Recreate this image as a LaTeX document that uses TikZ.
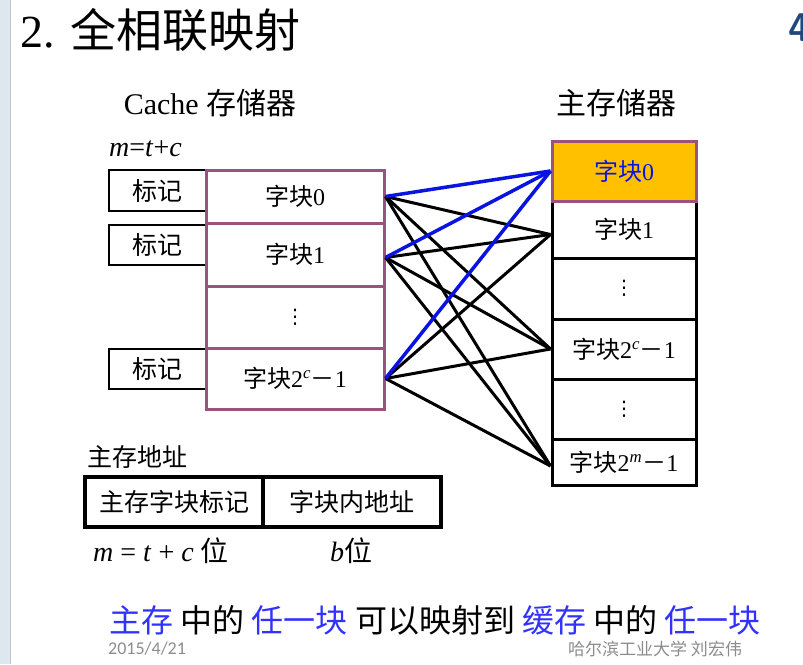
\documentclass[tikz,border=0pt]{standalone}
\usepackage{fontspec}
\setmainfont{Liberation Serif}
\newfontfamily\cjk{Noto Sans CJK SC}
\newfontfamily\slidefoot{Carlito}
\newfontfamily\symfont{DejaVu Sans}
\usetikzlibrary{calc}
\definecolor{cachepurple}{RGB}{152, 84, 124}
\definecolor{hitorange}{RGB}{255, 192, 0}
\definecolor{hitblue}{RGB}{10, 20, 225}
\definecolor{noteblue}{RGB}{50, 50, 255}
\definecolor{footgray}{RGB}{140, 140, 140}
\definecolor{stripgray}{RGB}{222, 230, 238}
\definecolor{stripline}{RGB}{185, 196, 206}
\definecolor{logoblue}{RGB}{31, 73, 125}
\newcommand{\fsz}[1]{\fontsize{#1}{#1}\selectfont}

\begin{document}
\begin{tikzpicture}[x=1pt, y=-1pt,
    cacheblk/.style={rectangle, draw=cachepurple, line width=3pt, fill=white, minimum width=178pt, inner sep=0pt, font=\fsz{24}},
    tagbox/.style={rectangle, draw=black, line width=2.5pt, fill=white, minimum width=97pt, minimum height=40pt, inner sep=0pt, font=\cjk\fsz{25}},
    memblk/.style={rectangle, draw=black, line width=3pt, fill=white, minimum width=144pt, inner sep=0pt, font=\fsz{24}},
    addrbox/.style={rectangle, draw=black, line width=3.5pt, minimum width=178pt, minimum height=50pt, inner sep=0pt, font=\cjk\fsz{25}},
    label/.style={inner sep=0pt, anchor=west},
    link/.style={line width=3pt, black},
    hitlink/.style={line width=3.5pt, hitblue}
  ]
  \useasboundingbox (0,0) rectangle (803,664);
  \fill[white] (0,0) rectangle (803,664);
  % slide edge
  \fill[stripgray] (0,0) rectangle (10,664);
  \draw[stripline, line width=1.2pt] (10.5,0) -- (10.5,664);

  \node[label, font=\fsz{46}] (title) at (20,30) {2. {\cjk 全相联映射}};
  \node[label, font=\bfseries\sffamily\fsz{40}, logoblue] (logo) at (788,28) {4};

  \node[font=\fsz{30}] (cachehead) at (210,103) {Cache {\cjk 存储器}};
  \node[font=\cjk\fsz{30}] (memhead) at (616,103) {主存储器};
  \node[label, font=\fsz{28}] (mtc) at (109,149) {\textit{m}=\textit{t}+\textit{c}};

  % tags
  \node[tagbox, minimum height=41pt] (t0) at (157.5,190.5) {标记};
  \node[tagbox] (t1) at (157.5,245) {标记};
  \node[tagbox] (tn) at (157.5,369) {标记};

  % cache
  \node[cacheblk, minimum height=53pt] (c0) at (295,196.5) {{\cjk 字块}0};
  \node[cacheblk, minimum height=63pt] (c1) at (295,254.5) {{\cjk 字块}1};
  \node[cacheblk, minimum height=62pt, font=\symfont\fsz{20}] (cd) at (295,317) {⋮};
  \node[cacheblk, minimum height=61pt] (cn) at (295,378.5) {{\cjk 字块}2\textsuperscript{\textit{c}}{\cjk －}1};

  % main memory
  \node[memblk, minimum height=57pt] (m1) at (624,229.5) {{\cjk 字块}1};
  \node[memblk, minimum height=61pt, font=\symfont\fsz{20}] (md1) at (624,288.5) {⋮};
  \node[memblk, minimum height=60pt] (mc) at (624,349) {{\cjk 字块}2\textsuperscript{\textit{c}}{\cjk －}1};
  \node[memblk, minimum height=60pt, font=\symfont\fsz{20}] (md2) at (624,409) {⋮};
  \node[memblk, minimum height=46pt] (mm) at (624,462) {{\cjk 字块}2\textsuperscript{\textit{m}}{\cjk －}1};
  \node[memblk, minimum height=60pt, draw=cachepurple, fill=hitorange, text=hitblue] (m0) at (624,171) {{\cjk 字块}0};

  \coordinate (m1in) at ([yshift=-5pt]m1.west);
  \coordinate (mmin) at ([yshift=-4pt]mm.west);
  \coordinate (c1out) at ([yshift=-3pt]c1.east);

  \foreach \s in {c0.east,c1out,cn.east}
    \foreach \t in {m1in,mc.west,mmin}
      \draw[link] (\s) -- (\t);
  \foreach \s in {c0.east,c1out,cn.east}
    \draw[hitlink] (\s) -- (m0.west);

  % address format
  \node[label, font=\cjk\fsz{25}] (addrhead) at (87,457) {主存地址};
  \node[addrbox] (addrtag) at (174,502) {主存字块标记};
  \node[addrbox] (addroff) at (352,502) {字块内地址};
  \node[label, font=\fsz{28}] (tagbits) at (93,551) {\textit{m} = \textit{t} + \textit{c} {\cjk 位}};
  \node[font=\fsz{28}] (offbits) at (351,551) {\textit{b}{\cjk 位}};

  \node[font=\cjk\fsz{32}] (note) at (435,620) {\textcolor{noteblue}{主存} 中的 \textcolor{noteblue}{任一块} 可以映射到 \textcolor{noteblue}{缓存} 中的 \textcolor{noteblue}{任一块}};

  \node[label, font=\slidefoot\fsz{18}, footgray] (date) at (108,649) {2015/4/21};
  \node[label, font=\cjk\fsz{17}, footgray] (author) at (568,649) {哈尔滨工业大学 刘宏伟};
\end{tikzpicture}
\end{document}
